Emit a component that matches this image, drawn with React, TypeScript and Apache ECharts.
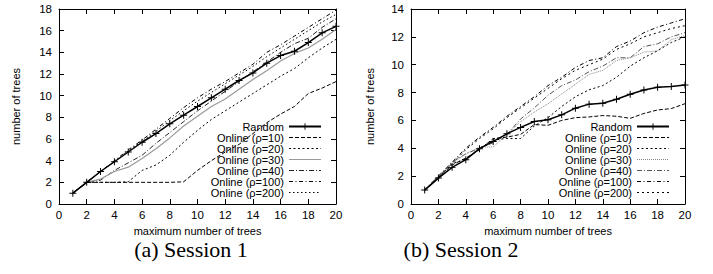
import React, { useEffect, useRef } from "react";
import * as echarts from "echarts";

// ---------- data ----------
const maxTrees = [1, 2, 3, 4, 5, 6, 7, 8, 9, 10, 11, 12, 13, 14, 15, 16, 17, 18, 19, 20];
const seriesNames = ["Random", "Online (ρ=10)", "Online (ρ=20)", "Online (ρ=30)", "Online (ρ=40)", "Online (ρ=100)", "Online (ρ=200)"];

// Session 1
const s1Random = [1, 2, 3, 3.9, 4.8, 5.7, 6.5, 7.4, 8.2, 9.0, 9.8, 10.6, 11.4, 12.1, 13.0, 13.7, 14.1, 14.9, 15.8, 16.4];
const s1Rho10 = [1, 2, 2, 2, 2, 2, 2, 2, 2.05, 3.1, 4.0, 4.8, 5.5, 6.5, 7.5, 8.3, 9.0, 10.2, 10.7, 11.3];
const s1Rho20 = [1, 2, 2, 2, 2.05, 3.1, 3.6, 4.5, 5.7, 6.8, 7.8, 8.6, 9.4, 10.2, 11.0, 11.8, 12.5, 13.5, 14.4, 15.2];
const s1Rho30 = [1, 2, 2.3, 3.0, 3.4, 4.2, 5.1, 6.1, 7.2, 8.1, 9.0, 9.7, 10.6, 11.5, 12.3, 13.2, 13.9, 14.4, 15.2, 16.1];
const s1Rho40 = [1, 2, 2.2, 3.1, 3.8, 4.5, 5.6, 6.6, 7.6, 8.6, 9.5, 10.4, 11.3, 12.2, 13.1, 14.0, 14.8, 15.3, 16.3, 17.1];
const s1Rho100 = [1, 2, 3, 4.0, 5.0, 5.9, 6.9, 7.9, 8.9, 9.8, 10.6, 11.3, 12.1, 12.9, 14.0, 14.7, 15.5, 16.3, 17.1, 17.9];
const s1Rho200 = [1, 2, 3, 3.9, 4.9, 5.8, 6.7, 7.7, 8.6, 9.5, 10.3, 11.1, 11.9, 12.7, 13.6, 14.4, 15.2, 16.0, 16.8, 17.5];

// Session 2
const s2Random = [1, 1.86, 2.63, 3.18, 3.97, 4.49, 5.04, 5.5, 5.92, 6.05, 6.4, 6.88, 7.17, 7.24, 7.52, 7.88, 8.19, 8.38, 8.43, 8.55];
const s2Rho10 = [1, 1.9, 2.8, 3.3, 3.9, 4.7, 4.8, 5.0, 5.7, 5.65, 6.0, 6.2, 6.25, 6.35, 6.3, 6.15, 6.5, 6.75, 6.85, 7.2];
const s2Rho20 = [1, 1.9, 2.9, 3.2, 4.0, 4.6, 4.7, 4.7, 5.6, 6.2, 7.0, 7.7, 8.2, 8.5, 9.1, 9.9, 10.5, 11.0, 11.6, 12.0];
const s2Rho30 = [1, 2, 2.9, 3.6, 4.1, 4.1, 5.0, 5.9, 6.6, 7.2, 7.9, 8.6, 9.3, 9.6, 10.3, 10.5, 10.9, 11.0, 11.8, 12.1];
const s2Rho40 = [1, 2, 3, 3.6, 4.0, 4.4, 5.0, 6.1, 6.9, 7.8, 8.5, 8.9, 9.5, 9.9, 10.5, 10.5, 11.3, 11.5, 12.0, 12.3];
const s2Rho100 = [1, 2, 3, 4.0, 4.8, 5.5, 6.3, 7.0, 7.7, 8.5, 9.1, 9.8, 10.3, 10.5, 11.3, 11.7, 12.3, 12.7, 13.0, 13.3];
const s2Rho200 = [1, 2, 2.9, 3.9, 4.7, 5.4, 6.2, 6.9, 7.6, 8.3, 9.0, 9.6, 10.0, 10.4, 11.1, 11.5, 12.0, 12.3, 12.6, 12.8];

const xAxisTitle = "maximum number of trees";
const yAxisTitle = "number of trees";

// ---------- styling ----------
const SANS = '"Liberation Sans", Arial, Helvetica, sans-serif';
const SERIF = '"Liberation Serif", "Times New Roman", Times, serif';
const PLUS = "path://M0,4.3H10V5.7H0Z M4.3,0H5.7V10H4.3Z";

type LineDef = { color: string; dash: number[] | "solid"; width: number; marker?: boolean };

const s1Styles: LineDef[] = [
  { color: "#000", dash: "solid", width: 1.5, marker: true },
  { color: "#000", dash: [4, 2], width: 1 },
  { color: "#000", dash: [2, 2.5], width: 1 },
  { color: "#9a9a9a", dash: "solid", width: 1.2 },
  { color: "#222", dash: [5, 2, 1, 2], width: 1 },
  { color: "#000", dash: [4, 2.5, 1, 2.5], width: 1 },
  { color: "#000", dash: [1.5, 2.5], width: 1 },
];
const s2Styles: LineDef[] = [
  { color: "#000", dash: "solid", width: 1.5, marker: true },
  { color: "#000", dash: [4, 2], width: 1 },
  { color: "#000", dash: [2, 2.5], width: 1 },
  { color: "#888", dash: [1, 1], width: 1 },
  { color: "#555", dash: [5, 2, 1, 2], width: 1 },
  { color: "#000", dash: [4, 2.5, 1, 2.5], width: 1 },
  { color: "#000", dash: [2, 3], width: 1 },
];

type ChartCfg = {
  values: number[][];
  styles: LineDef[];
  yMax: number;
  gridLeft: number;
  gridWidth: number;
  legendRight: number;
  caption: string;
  captionX: number;
  yNameGap: number;
};

function buildOption(cfg: ChartCfg) {
  const axisLine = { show: true, onZero: false, lineStyle: { color: "#000", width: 1 } };
  const axisTick = { show: true, inside: true, length: 5, lineStyle: { color: "#000", width: 1 } };
  const label = { color: "#000", fontSize: 11.5, fontFamily: SANS };
  const nameStyle = { color: "#000", fontSize: 11, fontFamily: SANS, lineHeight: 11 };
  return {
    animation: false,
    backgroundColor: "#fff",
    grid: { left: cfg.gridLeft, top: 9, width: cfg.gridWidth, height: 195, containLabel: false },
    xAxis: [
      {
        type: "value", min: 0, max: 20, interval: 2, position: "bottom",
        axisLine, axisTick, splitLine: { show: false },
        axisLabel: { ...label, margin: 5 },
        name: xAxisTitle, nameLocation: "middle", nameGap: 21, nameTextStyle: nameStyle,
      },
      {
        type: "value", min: 0, max: 20, interval: 2, position: "top",
        axisLine, axisTick, splitLine: { show: false }, axisLabel: { show: false },
      },
    ],
    yAxis: [
      {
        type: "value", min: 0, max: cfg.yMax, interval: 2, position: "left",
        axisLine, axisTick, splitLine: { show: false },
        axisLabel: { ...label, margin: 7 },
        name: yAxisTitle, nameLocation: "middle", nameGap: cfg.yNameGap, nameTextStyle: nameStyle,
      },
      {
        type: "value", min: 0, max: cfg.yMax, interval: 2, position: "right",
        axisLine, axisTick, splitLine: { show: false }, axisLabel: { show: false },
      },
    ],
    legend: {
      orient: "vertical", align: "right", right: cfg.legendRight, top: 121,
      itemWidth: 32, itemHeight: 8, itemGap: 0, padding: 0,
      textStyle: { color: "#000", fontSize: 11, fontFamily: SANS, lineHeight: 11 },
      data: seriesNames.map((name, i) =>
        cfg.styles[i].marker
          ? { name }
          : { name, itemStyle: { opacity: 0 }, lineStyle: { width: 1 } }
      ),
    },
    graphic: [
      {
        type: "text", x: cfg.captionX, y: 249,
        style: { text: cfg.caption, fontSize: 22, lineHeight: 17, fontFamily: SERIF, fill: "#000", align: "center", verticalAlign: "middle" },
      },
    ],
    series: seriesNames.map((name, i) => {
      const st = cfg.styles[i];
      return {
        name, type: "line", xAxisIndex: 0, yAxisIndex: 0,
        data: maxTrees.map((x, j) => [x, cfg.values[i][j]]),
        symbol: st.marker ? PLUS : "none",
        symbolSize: 7,
        showSymbol: !!st.marker,
        itemStyle: { color: st.color },
        lineStyle: { color: st.color, width: st.width, type: st.dash },
        z: 10 - i,
      };
    }),
  };
}

const leftCfg: ChartCfg = {
  values: [s1Random, s1Rho10, s1Rho20, s1Rho30, s1Rho40, s1Rho100, s1Rho200],
  styles: s1Styles, yMax: 18, gridLeft: 59, gridWidth: 277, legendRight: 34,
  caption: "(a) Session 1", captionX: 191, yNameGap: 38,
};
const rightCfg: ChartCfg = {
  values: [s2Random, s2Rho10, s2Rho20, s2Rho30, s2Rho40, s2Rho100, s2Rho200],
  styles: s2Styles, yMax: 14, gridLeft: 51, gridWidth: 278, legendRight: 43,
  caption: "(b) Session 2", captionX: 105, yNameGap: 36,
};

function Chart({ cfg, width }: { cfg: ChartCfg; width: number }) {
  const ref = useRef<HTMLDivElement>(null);
  useEffect(() => {
    if (!ref.current) return;
    const chart = echarts.init(ref.current, undefined, { renderer: "svg" });
    chart.setOption(buildOption(cfg) as any);
    return () => chart.dispose();
  }, [cfg]);
  return <div ref={ref} style={{ width, height: 274 }} />;
}

export default function App() {
  return (
    <div style={{ position: "absolute", left: 0, top: 0, width: 713, height: 274, display: "flex", background: "#fff" }}>
      <Chart cfg={leftCfg} width={356} />
      <Chart cfg={rightCfg} width={357} />
    </div>
  );
}
